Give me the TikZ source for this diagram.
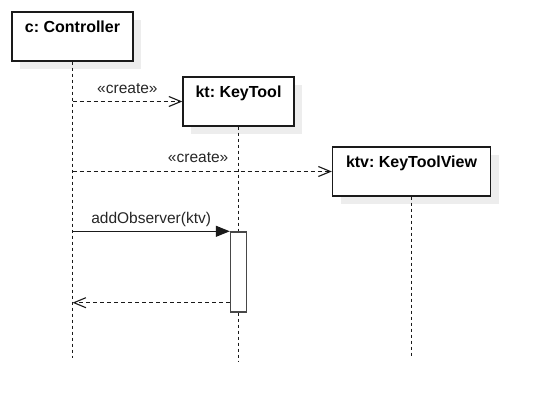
\documentclass[tikz,border=0pt]{standalone}
\usepackage{fontspec}
\setmainfont{Liberation Sans}
\usetikzlibrary{arrows.meta,shadows,calc}
\definecolor{shadowgray}{HTML}{EDEDED}
\definecolor{ink}{HTML}{1A1A1A}
\begin{document}
\frenchspacing
\begin{tikzpicture}[x=1pt,y=-1pt,
  obj/.style={draw=ink, line width=1.4pt, fill=white, rectangle, minimum height=49pt, inner sep=0pt,
    general shadow={fill=shadowgray, draw=none, shadow xshift=8pt, shadow yshift=-8pt}},
  title/.style={font=\fontsize{16}{19}\selectfont\bfseries, anchor=base, inner sep=0pt},
  lbl/.style={font=\fontsize{15.5}{18}\selectfont, text=black!85, inner sep=0pt, anchor=base},
  life/.style={draw=ink, line width=1pt, dash pattern=on 3pt off 3pt},
  msgd/.style={draw=ink, line width=1.1pt, dash pattern=on 4pt off 3pt, -{Straight Barb[length=12pt,width=10pt]}},
  call/.style={draw=ink, line width=1.1pt, -{Triangle[length=14pt,width=11pt]}},
  actbox/.style={draw=ink!80, line width=1.4pt, fill=white, minimum width=16pt, minimum height=80pt, inner sep=0pt}]
\useasboundingbox (0,0) rectangle (538,412);
% objects
\node[obj, minimum width=121pt] (c) at (72.5,36.5) {};
\node[obj, minimum width=111pt] (kt) at (238.5,101.5) {};
\node[obj, minimum width=158pt] (ktv) at (411.5,171.5) {};
\node[title] (ct) at ($(c.north)+(0,21)$) {c: Controller};
\node[title] (ktt) at ($(kt.north)+(0,21.5)$) {kt: KeyTool};
\node[title] (ktvt) at ($(ktv.north)+(0,21)$) {ktv: KeyToolView};
% lifelines
\coordinate (cend) at (72.5,358);
\coordinate (ktend) at (238.5,362);
\coordinate (ktvend) at (411.5,358);
\draw[life] (c.south) -- (cend);
\draw[life] (kt.south) -- (ktend);
\draw[life] (ktv.south) -- (ktvend);
% activation
\node[actbox] (a) at (238.5,272) {};
% messages
\draw[msgd] (c.south |- kt.west) -- (kt.west)
  node[lbl, midway, yshift=8pt] {«create»};
\draw[msgd] (c.south |- ktv.west) -- (ktv.west)
  node[lbl, midway, xshift=-4pt, yshift=9pt] {«create»};
\draw[call] (c.south |- a.north west) -- (a.north west)
  node[lbl, midway, yshift=8pt] {addObserver(ktv)};
\coordinate (ret) at ($(a.south west)+(0,-10)$);
\draw[msgd] (ret) -- (c.south |- ret);
\end{tikzpicture}
\end{document}
